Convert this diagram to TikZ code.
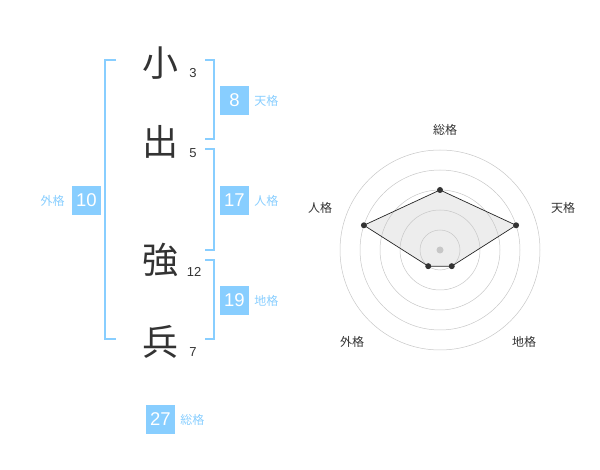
\documentclass[tikz,border=0pt]{standalone}
\usepackage{fontspec}
\setmainfont{Liberation Sans}
\newfontfamily\jpfont{Noto Sans CJK JP}
\usepackage{xcolor}
\definecolor{kakublue}{RGB}{136,206,255}
\definecolor{inkgray}{RGB}{51,51,51}
\usepackage{tikz}
\usetikzlibrary{positioning}

\begin{document}
\begin{tikzpicture}[
  x=1pt, y=-1pt,
  kanji/.style={font=\jpfont\fontsize{36}{36}\selectfont, text=inkgray, inner sep=0pt},
  strokes/.style={font=\fontsize{13}{13}\selectfont, text=inkgray, inner sep=0pt},
  kakubox/.style={fill=kakublue, text=white, minimum size=29pt, inner sep=0pt,
                  font=\fontsize{18.5}{18.5}\selectfont},
  kakuname/.style={font=\jpfont\fontsize{12}{12}\selectfont, text=kakublue, inner sep=0pt},
  bracket/.style={draw=kakublue, line width=1.5pt},
  ring/.style={draw=black!22, line width=0.5pt},
  axisname/.style={font=\jpfont\fontsize{12}{12}\selectfont, text=inkgray, inner sep=0pt},
  dot/.style={circle, fill=black!80, inner sep=0pt, minimum size=6pt}
]
\useasboundingbox (0,0) rectangle (600,470);

%% Name characters and stroke counts
\node (k1) [kanji] at (160,63)  {小};
\node (k2) [kanji] at (160,142) {出};
\node (k3) [kanji] at (160,260) {強};
\node (k4) [kanji] at (160,342) {兵};
\node (s1) [strokes] at (193,73)  {3};
\node (s2) [strokes] at (193,153) {5};
\node (s3) [strokes] at (194,272) {12};
\node (s4) [strokes] at (193,352) {7};

%% Brackets
\draw [bracket] (116,60) -- (105,60) -- (105,339) -- (116,339);
\draw [bracket] (205,60) -- (214,60) -- (214,139) -- (205,139);
\draw [bracket] (205,149) -- (214,149) -- (214,250) -- (205,250);
\draw [bracket] (205,260) -- (214,260) -- (214,339) -- (205,339);

%% Kakusu boxes
\node (ten) [kakubox] at (234.5,100.5) {8};
\node (jin) [kakubox] at (234.5,200.5) {17};
\node (chi) [kakubox] at (234.5,300.5) {19};
\node (gai) [kakubox] at (86.5,200.5) {10};
\node (sou) [kakubox] at (160.5,419.5) {27};
\node (tenname) [kakuname, right=5pt of ten] {天格};
\node (jinname) [kakuname, right=5pt of jin] {人格};
\node (chiname) [kakuname, right=5pt of chi] {地格};
\node (gainame) [kakuname, left=7pt of gai] {外格};
\node (souname) [kakuname, right=5pt of sou] {総格};

%% Radar chart
\begin{scope}[shift={(440,250)}, y=1pt]
  \coordinate (c) at (0,0);
  \coordinate (psou) at (90:60);
  \coordinate (pten) at (18:80);
  \coordinate (pchi) at (-54:20);
  \coordinate (pgai) at (-126:20);
  \coordinate (pjin) at (162:80);
  \fill [black!7] (psou) -- (pten) -- (pchi) -- (pgai) -- (pjin) -- cycle;
  \foreach \r in {20,40,60,80,100}
    \draw [ring] (c) circle (\r);
  \draw [black!85, line width=0.7pt]
    (psou) -- (pten) -- (pchi) -- (pgai) -- (pjin) -- cycle;
  \node (center) [circle, fill=black!22, inner sep=0pt, minimum size=7pt] at (c) {};
  \foreach \p in {psou,pten,pchi,pgai,pjin}
    \node [dot] at (\p) {};
  \node (lsou) [axisname] at (5,120)    {総格};
  \node (lten) [axisname] at (123,42)   {天格};
  \node (lchi) [axisname] at (84,-92)   {地格};
  \node (lgai) [axisname] at (-88,-92)  {外格};
  \node (ljin) [axisname] at (-120,42)  {人格};
\end{scope}

\end{tikzpicture}
\end{document}
